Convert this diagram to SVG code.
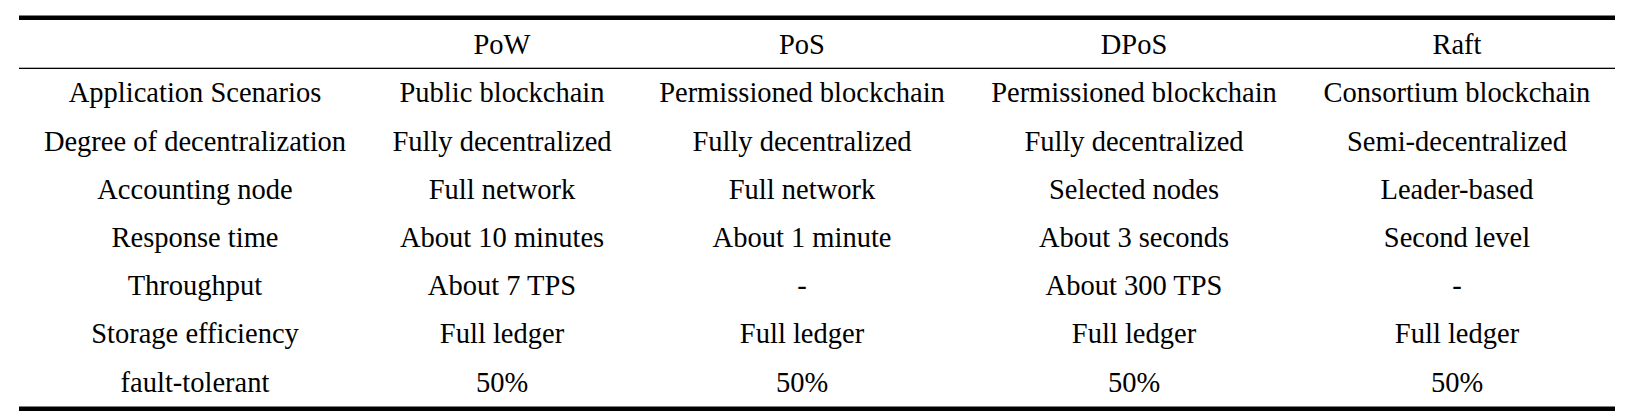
<svg xmlns="http://www.w3.org/2000/svg" width="1646" height="419" viewBox="0 0 1646 419">
<style>
text{font-family:"Liberation Serif","Times New Roman",serif;font-size:28.5px;fill:#000;text-anchor:middle}
.thick{fill:#000}
.thin{fill:#000}
</style>
<rect width="1646" height="419" fill="#fff"/>
<g id="rules">
<rect class="thick" x="19" y="15.5" width="1596" height="4.5"/>
<rect class="thin" x="19" y="67.7" width="1596" height="1.3"/>
<rect class="thick" x="19" y="406.5" width="1596" height="4.5"/>
</g>
<g id="header">
<text x="502" y="53.5">PoW</text>
<text x="802" y="53.5">PoS</text>
<text x="1134" y="53.5">DPoS</text>
<text x="1457" y="53.5">Raft</text>
</g>
<g id="row-application">
<text x="195" y="102.3">Application Scenarios</text>
<text x="502" y="102.3">Public blockchain</text>
<text x="802" y="102.3">Permissioned blockchain</text>
<text x="1134" y="102.3">Permissioned blockchain</text>
<text x="1457" y="102.3">Consortium blockchain</text>
</g>
<g id="row-decentralization">
<text x="195" y="150.5">Degree of decentralization</text>
<text x="502" y="150.5">Fully decentralized</text>
<text x="802" y="150.5">Fully decentralized</text>
<text x="1134" y="150.5">Fully decentralized</text>
<text x="1457" y="150.5">Semi-decentralized</text>
</g>
<g id="row-accounting">
<text x="195" y="198.7">Accounting node</text>
<text x="502" y="198.7">Full network</text>
<text x="802" y="198.7">Full network</text>
<text x="1134" y="198.7">Selected nodes</text>
<text x="1457" y="198.7">Leader-based</text>
</g>
<g id="row-response">
<text x="195" y="246.9">Response time</text>
<text x="502" y="246.9">About 10 minutes</text>
<text x="802" y="246.9">About 1 minute</text>
<text x="1134" y="246.9">About 3 seconds</text>
<text x="1457" y="246.9">Second level</text>
</g>
<g id="row-throughput">
<text x="195" y="295.1">Throughput</text>
<text x="502" y="295.1">About 7 TPS</text>
<text x="802" y="295.1">-</text>
<text x="1134" y="295.1">About 300 TPS</text>
<text x="1457" y="295.1">-</text>
</g>
<g id="row-storage">
<text x="195" y="343.3">Storage efficiency</text>
<text x="502" y="343.3">Full ledger</text>
<text x="802" y="343.3">Full ledger</text>
<text x="1134" y="343.3">Full ledger</text>
<text x="1457" y="343.3">Full ledger</text>
</g>
<g id="row-fault">
<text x="195" y="391.5">fault-tolerant</text>
<text x="502" y="391.5">50%</text>
<text x="802" y="391.5">50%</text>
<text x="1134" y="391.5">50%</text>
<text x="1457" y="391.5">50%</text>
</g>
</svg>
